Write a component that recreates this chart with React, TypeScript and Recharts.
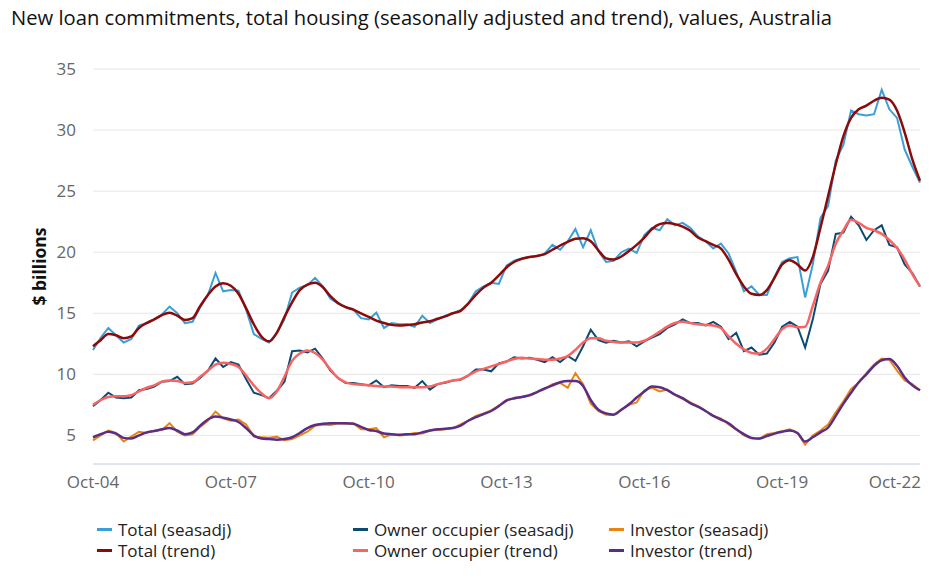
import { LineChart, Line, XAxis, YAxis, CartesianGrid, Legend } from "recharts";

// monthly index, sampled every 2 months from Oct-04 (0) to Oct-22 (216)
const STEP = 2;
const xTicks = [0, 36, 72, 108, 144, 180, 216];
const xTickLabels = ["Oct-04", "Oct-07", "Oct-10", "Oct-13", "Oct-16", "Oct-19", "Oct-22"];
const yTicks = [5, 10, 15, 20, 25, 30, 35];

// $ billions, one row = 3 years
const totalSeasadj = [
  12.0, 13.0, 13.8, 13.2, 12.6, 12.9, 14.0, 14.2, 14.5, 14.9, 15.55, 15.0, 14.2, 14.3, 15.5, 16.5, 18.3, 16.8,
  16.9, 16.85, 15.3, 13.3, 12.9, 12.6, 13.4, 14.5, 16.7, 17.1, 17.3, 17.9, 17.2, 16.2, 15.8, 15.5, 15.3, 14.6,
  14.5, 15.05, 13.8, 14.2, 14.1, 14.1, 13.9, 14.8, 14.2, 14.5, 14.8, 15.0, 15.25, 15.8, 16.8, 17.2, 17.5, 17.4,
  18.9, 19.3, 19.5, 19.6, 19.65, 19.9, 20.6, 20.2, 20.9, 21.9, 20.4, 21.8, 20.1, 19.2, 19.3, 20.0, 20.3, 19.95,
  21.4, 22.0, 21.8, 22.7, 22.2, 22.4, 22.0, 21.3, 20.9, 20.3, 20.7, 19.9, 18.4, 16.8, 17.2, 16.5, 16.5, 18.0,
  19.2, 19.5, 19.6, 16.3, 19.0, 22.8, 23.8, 27.5, 28.8, 31.6, 31.3, 31.2, 31.3, 33.3, 31.7, 31.0, 28.4, 27.0,
  25.7,
];
const ownerSeasadj = [
  7.4, 7.9, 8.5, 8.1, 8.05, 8.1, 8.7, 8.8, 9.0, 9.4, 9.45, 9.8, 9.2, 9.25, 9.7, 10.3, 11.3, 10.6,
  11.0, 10.8, 9.6, 8.5, 8.3, 8.05, 8.65, 9.4, 11.9, 11.95, 11.8, 12.1, 11.3, 10.3, 9.7, 9.3, 9.3, 9.2,
  9.1, 9.5, 8.95, 9.1, 9.05, 9.05, 8.9, 9.45, 8.75, 9.2, 9.3, 9.5, 9.55, 9.9, 10.4, 10.4, 10.25, 10.9,
  11.05, 11.4, 11.3, 11.35, 11.2, 11.0, 11.4, 11.0, 11.5, 11.1, 12.3, 13.65, 12.8, 12.6, 12.75, 12.6, 12.7, 12.3,
  12.7, 13.0, 13.3, 13.8, 14.1, 14.5, 14.2, 14.2, 14.0, 14.3, 13.9, 12.9, 13.4, 11.9, 12.2, 11.6, 11.7, 12.6,
  13.9, 14.3, 13.9, 12.2, 14.5, 17.4, 18.5, 21.5, 21.6, 22.9, 22.2, 21.0, 21.8, 22.2, 20.6, 20.4, 19.0, 18.3,
  17.2,
];
const investorSeasadj = [
  4.6, 5.0, 5.4, 5.2, 4.5, 4.9, 5.3, 5.2, 5.4, 5.45, 6.0, 5.3, 5.0, 5.1, 5.7, 6.2, 6.95, 6.4,
  6.2, 6.3, 5.9, 4.9, 4.85, 4.8, 4.9, 4.6, 4.7, 5.0, 5.3, 5.8, 5.9, 5.85, 6.0, 5.95, 6.0, 5.5,
  5.5, 5.6, 4.85, 5.1, 5.0, 5.05, 5.2, 5.15, 5.4, 5.45, 5.5, 5.6, 5.9, 6.2, 6.6, 6.8, 7.05, 7.45,
  7.9, 8.0, 8.15, 8.25, 8.55, 8.8, 9.2, 9.3, 8.9, 10.1, 9.2, 7.6, 7.0, 6.7, 6.7, 7.1, 7.5, 7.7,
  8.7, 8.9, 8.6, 8.75, 8.3, 8.0, 7.7, 7.4, 7.0, 6.6, 6.4, 5.9, 5.5, 5.0, 4.75, 4.7, 5.1, 5.2,
  5.35, 5.5, 5.2, 4.25, 5.0, 5.4, 5.9, 6.9, 7.8, 8.8, 9.3, 10.1, 10.8, 11.3, 11.2, 10.3, 9.5, 9.2,
  8.7,
];
const totalTrend = [
  12.3, 12.8, 13.3, 13.2, 12.95, 13.1, 13.8, 14.2, 14.5, 14.85, 15.05, 14.8, 14.45, 14.6, 15.6, 16.5, 17.2, 17.45,
  17.25, 16.6, 15.4, 14.1, 13.1, 12.7, 13.4, 14.7, 15.9, 16.9, 17.35, 17.5, 17.15, 16.4, 15.85, 15.5, 15.3, 15.0,
  14.7, 14.4, 14.2, 14.05, 14.0, 14.05, 14.1, 14.25, 14.35, 14.55, 14.75, 15.0, 15.2, 15.8, 16.5, 17.1, 17.5, 18.1,
  18.75, 19.2, 19.45, 19.6, 19.7, 19.85, 20.2, 20.55, 20.85, 21.1, 21.15, 20.9, 20.15, 19.5, 19.4, 19.65, 20.1, 20.6,
  21.2, 21.9, 22.3, 22.4, 22.3, 22.1, 21.75, 21.2, 20.9, 20.6, 20.3, 19.4, 18.2, 17.2, 16.6, 16.5, 16.9, 17.9,
  19.0, 19.35, 19.0, 18.5, 19.6, 22.0, 24.6, 27.2, 29.5, 31.0, 31.7, 32.0, 32.4, 32.65, 32.5, 31.6, 29.8, 27.6,
  25.85,
];
const ownerTrend = [
  7.5, 7.9, 8.15, 8.2, 8.2, 8.3, 8.6, 8.9, 9.1, 9.4, 9.5, 9.45, 9.3, 9.35, 9.8, 10.3, 10.8, 10.95,
  10.85, 10.6, 9.9, 9.1, 8.45, 8.05, 8.6, 9.8, 11.1, 11.7, 11.95, 11.75, 11.2, 10.4, 9.7, 9.35, 9.2, 9.15,
  9.1, 9.05, 9.0, 9.0, 8.95, 8.95, 8.95, 8.95, 9.0, 9.2, 9.35, 9.5, 9.6, 9.9, 10.25, 10.45, 10.65, 10.85,
  11.05, 11.25, 11.35, 11.3, 11.25, 11.2, 11.2, 11.3, 11.5, 12.0, 12.6, 12.95, 12.95, 12.75, 12.65, 12.6, 12.6, 12.6,
  12.75, 13.1, 13.5, 13.9, 14.2, 14.3, 14.2, 14.1, 14.05, 14.0, 13.8, 13.1, 12.5, 12.05, 11.75, 11.7, 12.1, 12.9,
  13.7, 14.0, 13.85, 13.9, 15.6, 17.5, 18.9, 20.7, 21.8, 22.65, 22.4, 22.0, 21.8, 21.5, 21.0, 20.35, 19.4, 18.2,
  17.2,
];
const investorTrend = [
  4.85, 5.1, 5.3, 5.15, 4.8, 4.75, 5.0, 5.25, 5.35, 5.5, 5.6, 5.4, 5.1, 5.25, 5.8, 6.3, 6.55, 6.45,
  6.3, 6.1, 5.6, 5.0, 4.75, 4.7, 4.65, 4.7, 4.85, 5.2, 5.6, 5.85, 5.95, 6.0, 6.0, 6.0, 5.95, 5.7,
  5.45, 5.35, 5.15, 5.1, 5.05, 5.1, 5.1, 5.25, 5.4, 5.5, 5.55, 5.6, 5.8, 6.2, 6.5, 6.75, 7.0, 7.4,
  7.85, 8.05, 8.15, 8.3, 8.55, 8.85, 9.1, 9.35, 9.45, 9.45, 9.05, 7.9, 7.1, 6.8, 6.7, 7.1, 7.55, 8.1,
  8.6, 9.0, 8.95, 8.7, 8.35, 8.05, 7.65, 7.35, 7.0, 6.6, 6.3, 6.0, 5.5, 5.1, 4.8, 4.75, 4.95, 5.15,
  5.3, 5.4, 5.2, 4.5, 4.85, 5.25, 5.65, 6.6, 7.6, 8.5, 9.35, 10.0, 10.7, 11.15, 11.25, 10.7, 9.75, 9.1,
  8.7,
];

const series = [
  { key: "ts", name: "Total (seasadj)", color: "#3a9fd6", values: totalSeasadj, trend: false },
  { key: "os", name: "Owner occupier (seasadj)", color: "#0d4a72", values: ownerSeasadj, trend: false },
  { key: "is", name: "Investor (seasadj)", color: "#e8840f", values: investorSeasadj, trend: false },
  { key: "tt", name: "Total (trend)", color: "#8c0a0a", values: totalTrend, trend: true },
  { key: "ot", name: "Owner occupier (trend)", color: "#f86464", values: ownerTrend, trend: true },
  { key: "it", name: "Investor (trend)", color: "#5a2d86", values: investorTrend, trend: true },
];

const data = totalSeasadj.map((_, i) => {
  const row: Record<string, number> = { m: i * STEP };
  series.forEach((s) => (row[s.key] = s.values[i]));
  return row;
});

const FONT = "'Open Sans', 'Noto Sans', sans-serif";

function XTick({ x, y, payload, index }: any) {
  const last = index === xTicks.length - 1;
  return (
    <text
      x={last ? x + 1 : x}
      y={y}
      dy="0.71em"
      textAnchor={last ? "end" : "middle"}
      fill="#666"
      fontSize={17}
      fontFamily={FONT}
    >
      {xTickLabels[xTicks.indexOf(payload.value)]}
    </text>
  );
}

// rotated axis title, centred on the plot height
function YLabel({ viewBox }: any) {
  const cx = 31;
  const cy = viewBox ? viewBox.y + viewBox.height / 2 : 258;
  return (
    <text
      x={cx}
      y={cy}
      transform={`rotate(-90 ${cx} ${cy})`}
      textAnchor="middle"
      dominantBaseline="central"
      fill="#111"
      fontSize={17.5}
      fontWeight="bold"
      fontFamily={FONT}
    >
      $ billions
    </text>
  );
}

function LegendGrid() {
  return (
    <div
      style={{
        display: "grid",
        gridTemplateColumns: "256px 256px 256px",
        paddingLeft: 89,
        fontFamily: FONT,
        fontSize: 17,
        color: "#222",
      }}
    >
      {series.map((s) => (
        <div key={s.key} style={{ display: "flex", alignItems: "center", height: 21 }}>
          <span style={{ width: 15, height: 3, background: s.color, marginRight: 6, flexShrink: 0 }} />
          <span>{s.name}</span>
        </div>
      ))}
    </div>
  );
}

export default function App() {
  return (
    <div style={{ position: "relative", width: 924, height: 563, fontFamily: FONT }}>
      <div style={{ position: "absolute", left: 3, top: -5, fontSize: 20.2, color: "#111", whiteSpace: "nowrap" }}>
        New loan commitments, total housing (seasonally adjusted and trend), values, Australia
      </div>
      <LineChart width={924} height={563} data={data} margin={{ top: 61, right: 12, bottom: 77, left: 0 }}>
        <CartesianGrid vertical={false} stroke="#e6e6e6" />
        <XAxis
          dataKey="m"
          type="number"
          domain={[0, 216]}
          ticks={xTicks}
          tick={<XTick />}
          tickLine={false}
          tickSize={6}
          tickMargin={6}
          axisLine={{ stroke: "#ccd6eb" }}
          height={30}
        />
        <YAxis
          domain={[2.66, 35]}
          ticks={yTicks}
          width={85}
          axisLine={false}
          tickLine={false}
          tickSize={6}
          tickMargin={11}
          tick={{ fill: "#666", fontSize: 17, fontFamily: FONT }}
          label={<YLabel />}
        />
        {series.map((s) => (
          <Line
            key={s.key}
            dataKey={s.key}
            name={s.name}
            type={s.trend ? "monotone" : "linear"}
            stroke={s.color}
            strokeWidth={s.trend ? 2.5 : 2}
            dot={false}
            activeDot={false}
            isAnimationActive={false}
          />
        ))}
        <Legend
          layout="vertical"
          align="center"
          verticalAlign="middle"
          wrapperStyle={{ left: 0, top: 511, width: 924 }}
          content={<LegendGrid />}
        />
      </LineChart>
    </div>
  );
}
